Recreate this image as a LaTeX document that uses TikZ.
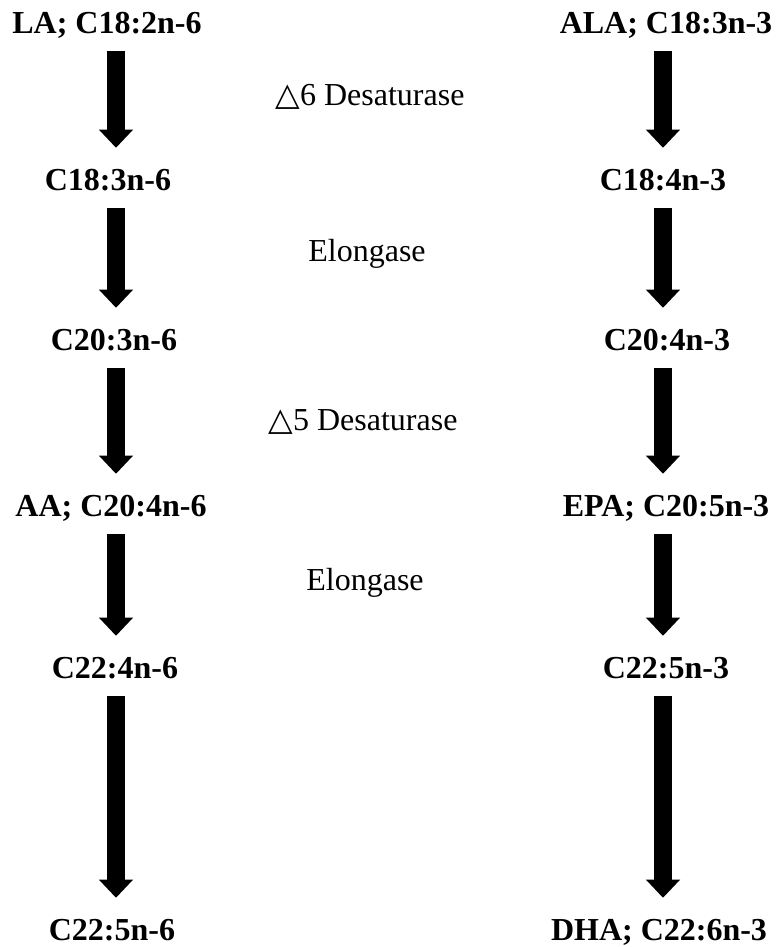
\documentclass[tikz,border=0pt]{standalone}
\usepackage{fontspec}
\setmainfont{Liberation Serif}
\newfontfamily\symfont{DejaVu Sans}
\usetikzlibrary{arrows.meta}

\tikzset{
  acid/.style={font=\bfseries\fontsize{24}{28}\selectfont, inner sep=0pt,
    text height=15pt, text depth=0pt, anchor=base},
  enzyme/.style={font=\fontsize{24}{28}\selectfont, inner sep=0pt, anchor=base},
  fat/.style={line width=13.5pt,
    -{Triangle[width=25.5pt,length=13.5pt,line width=0pt]},
    shorten <=13.5pt, shorten >=16.5pt},
}

\begin{document}
\begin{tikzpicture}[x=0.75pt,y=-0.75pt]
      \useasboundingbox (0,0) rectangle (776,947);
%      \draw [help lines] (0,0) grid (776,947);
      \coordinate (colL) at (116,0);
      \coordinate (colR) at (663,0);
      % n-6 series
      \node [acid] (la)   at (107,33)  {LA; C18:2n-6};
      \node [acid] (gla)  at (108,190) {C18:3n-6};
      \node [acid] (dgla) at (114,350) {C20:3n-6};
      \node [acid] (aa)   at (111,516) {AA; C20:4n-6};
      \node [acid] (ada)  at (115,678) {C22:4n-6};
      \node [acid] (dpa6) at (112,940) {C22:5n-6};
      % n-3 series
      \node [acid] (ala)  at (666,33)  {ALA; C18:3n-3};
      \node [acid] (sda)  at (663,190) {C18:4n-3};
      \node [acid] (eta)  at (667,350) {C20:4n-3};
      \node [acid] (epa)  at (666,516) {EPA; C20:5n-3};
      \node [acid] (dpa3) at (666,678) {C22:5n-3};
      \node [acid] (dha)  at (659,940) {DHA; C22:6n-3};
      % enzymes between the two columns
      \node [enzyme] (des6) at (370,105) {{\symfont △}6 Desaturase};
      \node [enzyme] (elo1) at (367,261) {Elongase};
      \node [enzyme] (des5) at (363,430) {{\symfont △}5 Desaturase};
      \node [enzyme] (elo2) at (365,590) {Elongase};
      \foreach \a/\b in {la/gla,gla/dgla,dgla/aa,aa/ada,ada/dpa6}
        \draw [fat] (\a.south -| colL) -- (\b.north -| colL);
      \foreach \a/\b in {ala/sda,sda/eta,eta/epa,epa/dpa3,dpa3/dha}
        \draw [fat] (\a.south -| colR) -- (\b.north -| colR);
    \end{tikzpicture}
\end{document}
